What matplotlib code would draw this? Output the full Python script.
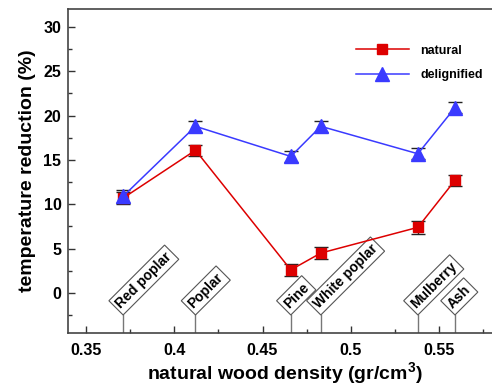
import matplotlib
matplotlib.use('Agg')
import matplotlib.pyplot as plt
from matplotlib.lines import Line2D
import numpy as np

plt.rcParams['font.family'] = ['Liberation Sans', 'DejaVu Sans']
plt.rcParams['font.weight'] = 'bold'
plt.rcParams['mathtext.default'] = 'regular'

# wood species and their natural density (gr/cm3)
species = ['Red poplar', 'Poplar', 'Pine', 'White poplar', 'Mulberry', 'Ash']
density = [0.371, 0.412, 0.466, 0.483, 0.538, 0.559]

# temperature reduction (%)
natural = [10.7, 16.1, 2.6, 4.5, 7.4, 12.7]
natural_err = [0.7, 0.6, 0.7, 0.7, 0.7, 0.6]
delig = [10.9, 18.8, 15.4, 18.8, 15.7, 20.9]
delig_err = [0.7, 0.6, 0.6, 0.6, 0.6, 0.6]

red = '#dd0000'
blue = '#3a3aff'

fig = plt.figure(figsize=(4.92, 3.87), dpi=100)
ax = fig.add_axes([0.139, 0.140, 0.879, 0.836])

ax.errorbar(density, natural, yerr=natural_err, color=red, lw=1.1,
            marker='s', ms=7, ecolor='#222222', elinewidth=1.0, capsize=5,
            capthick=1.0, zorder=3)
ax.errorbar(density, delig, yerr=delig_err, color=blue, lw=1.1,
            marker='^', ms=9.5, ecolor='#222222', elinewidth=1.0, capsize=5,
            capthick=1.0, zorder=3)

ax.set_xlim(0.34, 0.585)
ax.set_ylim(-4.5, 32)
ax.set_xticks([0.35, 0.4, 0.45, 0.5, 0.55])
ax.set_xticklabels(['0.35', '0.4', '0.45', '0.5', '0.55'])
ax.set_xticks(np.arange(0.375, 0.58, 0.05), minor=True)
ax.set_yticks([0, 5, 10, 15, 20, 25, 30])
ax.set_yticks([-2.5, 2.5, 7.5, 12.5, 17.5, 22.5, 27.5], minor=True)
ax.tick_params(which='both', direction='in', color='#333333', labelsize=11.5)
ax.tick_params(which='major', length=5, width=1)
ax.tick_params(which='minor', length=3, width=1)
ax.tick_params(axis='x', pad=7)
ax.tick_params(axis='y', pad=5)
for s in ax.spines.values():
    s.set_color('#444444')
    s.set_linewidth(1.2)

ax.set_xlabel('natural wood density (gr/cm$^3$)', fontsize=14,
              fontweight='bold', labelpad=2)
ax.set_ylabel('temperature reduction (%)', fontsize=14, fontweight='bold',
              labelpad=5)

# species labels
for name, x in zip(species, density):
    ax.plot([x, x], [-4.5, -2.5], color='#777777', lw=1.0, zorder=1)
    ax.annotate(name, xy=(x, -2.5), xytext=(0, 3.2), textcoords='offset points',
                rotation=45, rotation_mode='anchor', ha='left', va='bottom',
                fontsize=10, fontweight='bold',
                bbox=dict(boxstyle='square,pad=0.22', fc='white',
                          ec='#555555', lw=0.8))

handles = [Line2D([], [], color=red, lw=1.1, marker='s', ms=7),
           Line2D([], [], color=blue, lw=1.1, marker='^', ms=9.5)]
ax.legend(handles, ['natural', 'delignified'], loc='upper right',
          bbox_to_anchor=(0.985, 0.925), frameon=False, fontsize=9,
          handlelength=4.3, handletextpad=0.9, labelspacing=1.0)

fig.savefig('out.png', dpi=100)
